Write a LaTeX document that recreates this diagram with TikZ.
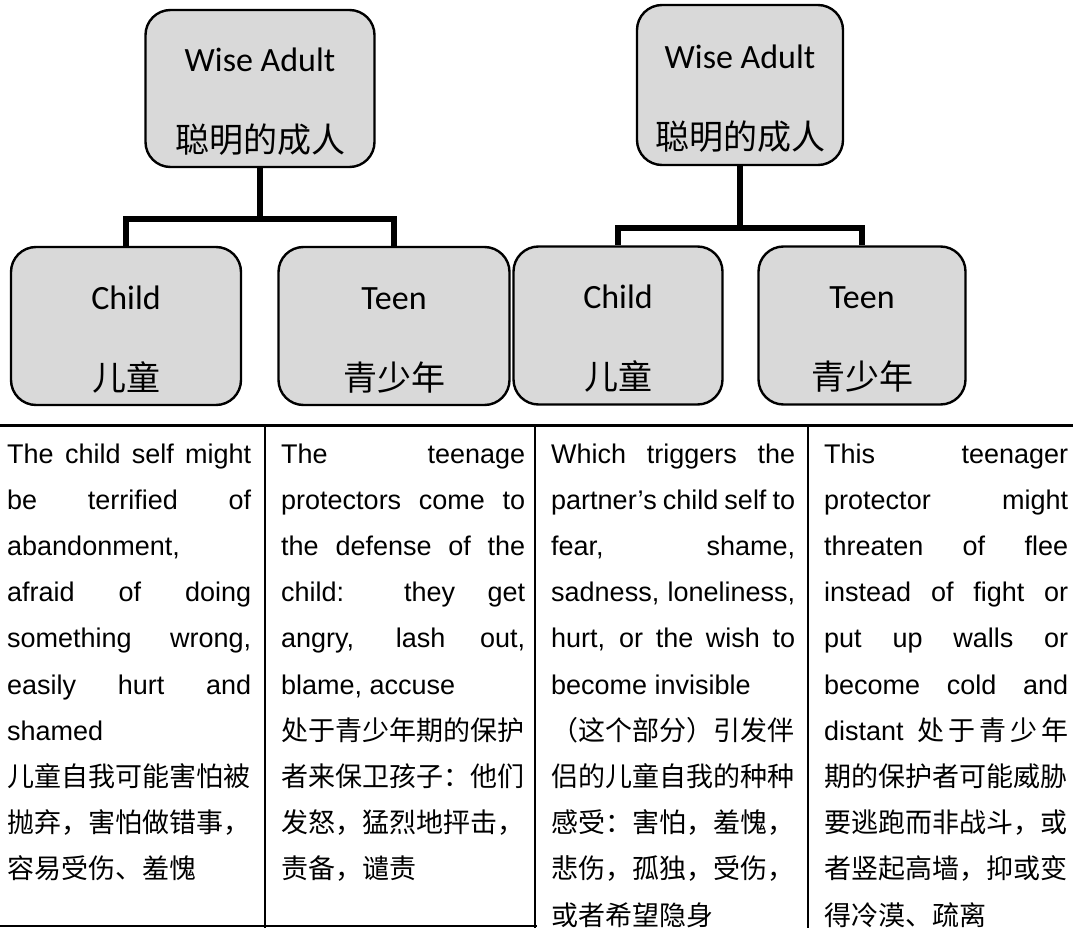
\documentclass[tikz,border=0pt]{standalone}
\usepackage{fontspec}
\setmainfont{Liberation Sans}
\newfontfamily\cjk{Noto Sans CJK SC}
\newfontfamily\calib{Carlito}
\usetikzlibrary{trees,positioning}

\newlength\colw
\setlength\colw{244pt}
\newcommand\justln[1]{\hbox to\colw{\spaceskip=.278em plus 1fil minus .12em\relax #1}}
\newcommand\lastln[1]{\hbox to\colw{#1\hfil}}
\newcommand\cjkln[1]{\hbox to\colw{\cjk #1\hfil}}
\newcommand\cellbox[1]{\vtop{\baselineskip=46.2pt\lineskiplimit=-100pt #1}}

\begin{document}
\begin{tikzpicture}[x=1pt,y=-1pt,
  partbox/.style={rectangle,rounded corners=25pt,draw,line width=2.4pt,fill=black!15,minimum height=158pt,align=center,inner sep=0pt,font=\fontsize{34}{81}\selectfont\calib},
  edge from parent/.style={draw,line width=5.5pt},
  forkat/.style={edge from parent path={(\tikzparentnode.south) -- +(0pt,-#1) -| (\tikzchildnode.north)}},
  cell/.style={anchor=base west,inner sep=0pt,font=\fontsize{27}{46.2}\selectfont}]

\useasboundingbox (0,0) rectangle (1073,928);

\node[partbox,minimum width=229pt,minimum height=157pt] (wiseL) at (260,88.5) {\rule{0pt}{50pt}Wise Adult\\{\cjk 聪明的成人}}
    [level distance=237.5pt,sibling distance=268pt,forkat=51pt]
    child {node[partbox,minimum width=230pt] (childL) {\rule{0pt}{50pt}Child\\{\cjk 儿童}}}
    child {node[partbox,minimum width=231pt] (teenL) {\rule{0pt}{50pt}Teen\\{\cjk 青少年}}};

\node[partbox,minimum width=206pt,minimum height=160pt] (wiseR) at (740,85) {\rule{0pt}{50pt}Wise Adult\\{\cjk 聪明的成人}}
    [level distance=240.5pt,sibling distance=244pt,forkat=62pt]
    child {node[partbox,minimum width=209pt] (childR) {\rule{0pt}{50pt}Child\\{\cjk 儿童}}}
    child {node[partbox,minimum width=207pt] (teenR) {\rule{0pt}{50pt}Teen\\{\cjk 青少年}}};

\draw[line width=3pt] (0,425) -- (1073,425);
\foreach \x in {265,535,808}
    \draw[line width=2pt] (\x,425) -- (\x,928);
\draw[line width=2pt] (0,926) -- (537,926);

\node[cell] (colChild) at (7,463) {\cellbox{%
    \justln{The child self might}
    \justln{be terrified of}
    \lastln{abandonment,}
    \justln{afraid of doing}
    \justln{something wrong,}
    \justln{easily hurt and}
    \lastln{shamed}
    \cjkln{儿童自我可能害怕被}
    \cjkln{抛弃，害怕做错事，}
    \cjkln{容易受伤、羞愧}}};

\node[cell] (colTeen) at (281,463) {\cellbox{%
    \justln{The teenage}
    \justln{protectors come to}
    \justln{the defense of the}
    \justln{child: they get}
    \justln{angry, lash out,}
    \lastln{blame, accuse}
    \cjkln{处于青少年期的保护}
    \cjkln{者来保卫孩子：他们}
    \cjkln{发怒，猛烈地抨击，}
    \cjkln{责备，谴责}}};

\node[cell] (colTrigger) at (551,463) {\cellbox{%
    \justln{Which triggers the}
    \justln{partner’s child self to}
    \justln{fear, shame,}
    \justln{sadness, loneliness,}
    \justln{hurt, or the wish to}
    \lastln{become invisible}
    \cjkln{（这个部分）引发伴}
    \cjkln{侣的儿童自我的种种}
    \cjkln{感受：害怕，羞愧，}
    \cjkln{悲伤，孤独，受伤，}
    \cjkln{或者希望隐身}}};

\node[cell] (colFlee) at (824,463) {\cellbox{%
    \justln{This teenager}
    \justln{protector might}
    \justln{threaten of flee}
    \justln{instead of fight or}
    \justln{put up walls or}
    \justln{become cold and}
    \justln{distant\hskip14pt{\cjk 处\hfil 于\hfil 青\hfil 少\hfil 年}}
    \cjkln{期的保护者可能威胁}
    \cjkln{要逃跑而非战斗，或}
    \cjkln{者竖起高墙，抑或变}
    \cjkln{得冷漠、疏离}}};

\end{tikzpicture}
\end{document}
